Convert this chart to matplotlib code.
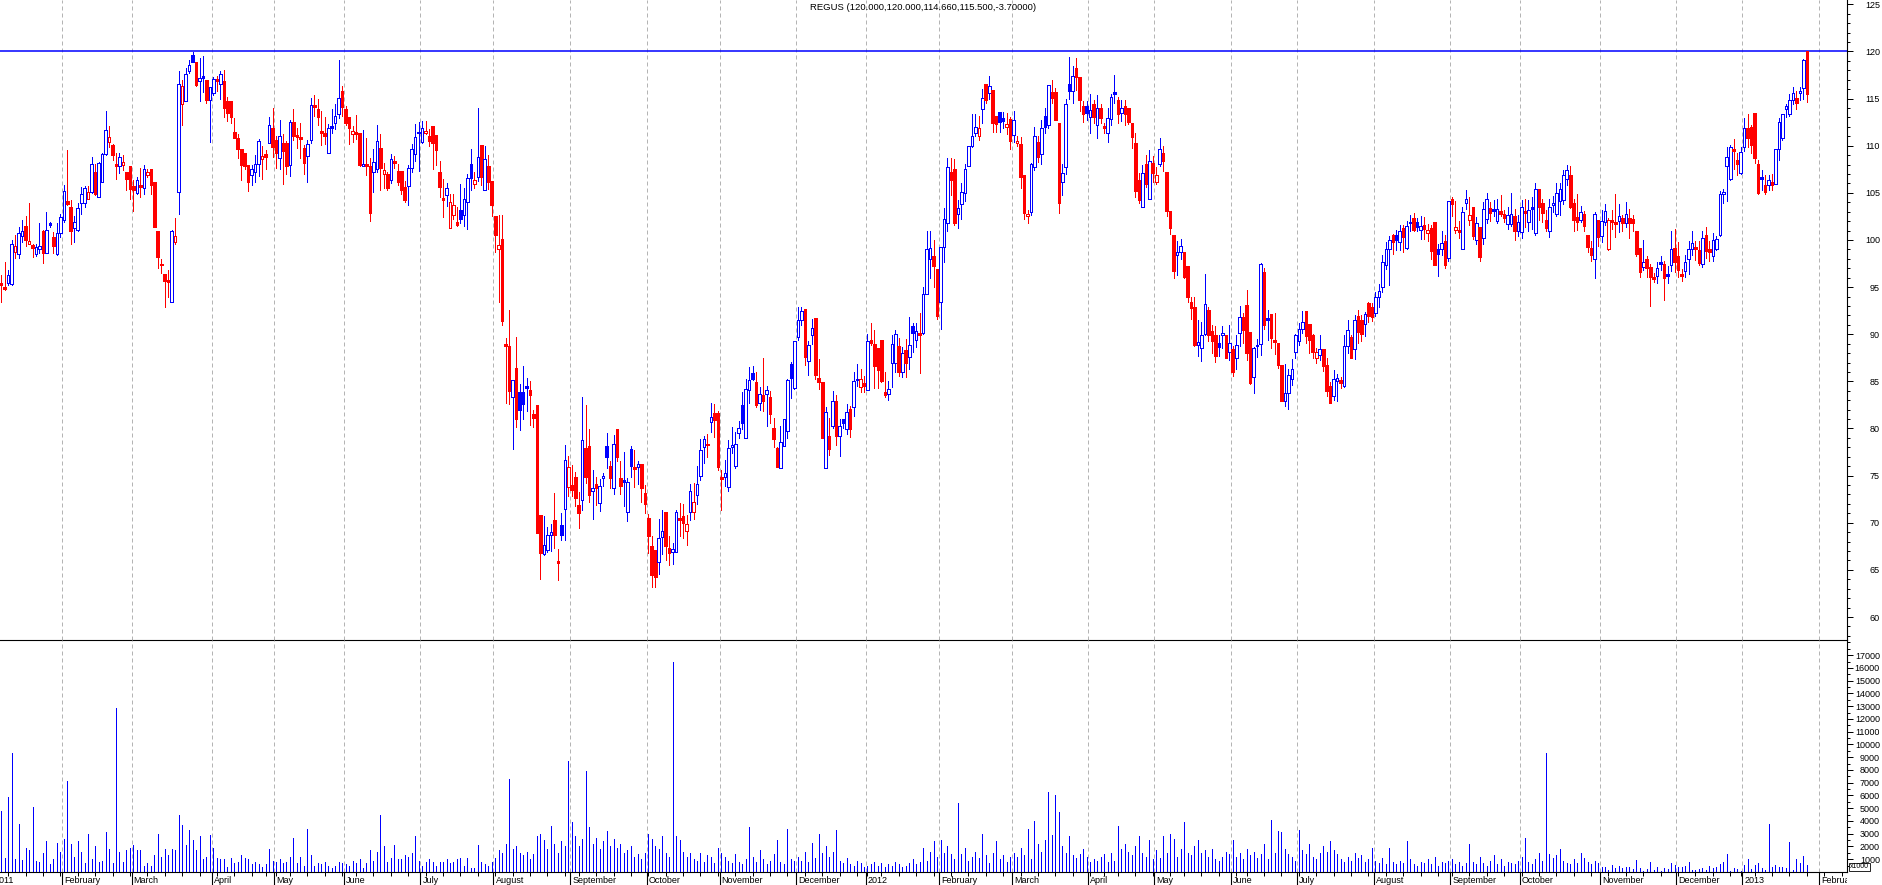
import numpy as np
import pandas as pd
import matplotlib
matplotlib.use("Agg")
import matplotlib.pyplot as plt
from matplotlib.collections import LineCollection
from matplotlib.patches import Rectangle

# ---------------- data ----------------
title_text = "REGUS (120.000,120.000,114.660,115.500,-3.70000)"
first_date = "2011-01-06"
uk_holidays = ["2011-01-03", "2011-04-22", "2011-04-25", "2011-04-29", "2011-05-02",
               "2011-05-30", "2011-08-29", "2011-12-26", "2011-12-27", "2012-01-02",
               "2012-04-06", "2012-04-09", "2012-05-07", "2012-06-04", "2012-06-05",
               "2012-08-27", "2012-12-25", "2012-12-26", "2013-01-01"]
month_names = ["", "February", "March", "April", "May", "June", "July", "August",
               "September", "October", "November", "December"]

opens = [
    95.4, 95.0, 95.4, 95.3, 98.7, 98.5, 100.4, 101.5, 99.6, 99.5, 98.5, 99.0, 100.9, 98.6, 101.8, 100.3, 98.5, 100.7,
    102.1, 104.1, 103.5, 101.3, 101.1, 103.9, 103.9, 104.4, 105.1, 107.2, 104.6, 106.2, 109.1, 110.4, 110.1, 108.1, 107.9, 108.0, 107.2, 107.9,
    105.7, 105.0, 105.8, 105.5, 106.9, 107.5, 106.2, 100.9, 97.5, 96.4, 95.8, 93.45, 99.8, 105.1, 114.4, 114.7, 117.9, 119.6, 118.9, 116.9, 117.2, 117.0, 114.9,
    115.6, 117.1, 116.6, 116.9, 114.7, 114.7, 111.5, 110.8, 109.7, 109.2, 108.0, 106.9, 107.2, 108.1, 108.6, 109.1, 110.3, 111.9,
    110.6, 108.7, 110.3, 110.3, 108.0, 112.5, 111.1, 110.9, 109.8, 108.9, 110.6, 114.1, 113.9, 111.6, 111.4, 109.2, 111.9, 112.4, 113.4, 115.8,
    113.9, 113.1, 111.2, 111.5, 111.4, 107.8, 108.05, 107.85, 107.2, 107.5, 109.8, 107.0, 107.0, 106.4, 108.4, 107.3, 107.3, 105.6, 105.7, 107.6, 109.1, 111.5,
    110.4, 111.4, 111.0, 112.1, 111.1, 107.25, 104.45, 104.8, 101.3, 102.65, 101.95, 103.2, 102.65, 104.0, 108.05, 105.9, 106.7, 110.05, 105.3, 107.85, 106.3,
    102.5, 99.0, 100.1, 88.9, 88.75, 83.3, 86.4, 83.9, 83.9, 84.25, 84.1, 81.5, 82.5, 70.8, 66.7, 67.1, 68.7, 70.3, 65.9, 69.75, 71.5, 73.75,
    74.0, 74.9, 71.9, 72.4, 77.9, 78.1, 73.4, 74.1, 72.1, 74.8, 78.15, 76.0, 73.65, 79.9, 74.7, 74.55, 71.1, 77.8, 75.9, 75.9, 76.2, 73.2,
    70.5, 67.5, 67.1, 65.8, 68.5, 71.1, 67.35, 66.9, 66.9, 70.5, 70.7, 69.1, 71.1, 71.1, 72.9, 75.0, 78.0, 78.4, 80.65, 81.6, 81.6,
    74.9, 74.9, 73.8, 78.05, 76.0, 79.5, 82.5, 79.0, 84.1, 85.9, 84.9, 82.7, 83.55, 83.7, 83.3, 80.1, 77.95, 75.8, 78.1, 79.7, 86.85, 84.3,
    89.75, 91.5, 92.7, 87.2, 89.9, 91.75, 85.4, 84.9, 75.8, 79.2, 80.3, 82.9, 79.2, 81.0, 79.95, 82.05, 82.3, 85.1, 84.45, 84.8,
    84.1, 89.4, 89.0, 88.5, 89.4, 83.9, 83.7, 87.0, 87.0, 88.7, 86.0, 88.3, 87.6, 90.9, 89.4, 90.05, 90.1, 94.3, 98.0, 98.3, 96.9,
    93.45, 99.3, 101.8, 107.2, 107.5, 102.8, 103.8, 104.95, 107.85, 110.0, 111.3, 111.0, 113.9, 116.6, 115.6, 115.9, 113.2, 113.6, 112.9, 111.95, 112.8,
    111.1, 110.25, 110.2, 106.9, 102.5, 103.0, 107.7, 110.4, 109.1, 113.15, 112.2, 115.7, 115.7, 112.4, 106.1, 107.7, 116.55, 115.85, 118.2, 117.3, 114.2, 114.2,
    113.0, 114.4, 112.2, 114.0, 112.1, 111.4, 112.8, 115.7, 114.9, 113.5, 114.2, 114.0, 112.45, 110.25, 106.4, 103.5, 108.05, 104.4, 108.2,
    106.1, 108.1, 109.2, 107.2, 103.1, 100.5, 98.4, 98.75, 98.75, 97.25, 93.45, 92.85, 88.85, 88.5, 90.0, 92.6, 90.3, 89.9, 89.1, 89.9, 89.9, 88.15,
    88.4, 87.45, 90.1, 91.8, 93.1, 90.2, 85.5, 88.9, 88.95, 96.6, 91.7, 92.15, 89.4, 89.1, 86.75, 82.95, 83.8, 85.2, 88.15,
    89.3, 90.6, 92.45, 91.1, 89.9, 87.45, 87.8, 88.4, 86.7, 84.5, 83.45, 85.0, 85.1, 84.5, 88.75, 89.7, 88.4, 91.9, 91.5, 91.1, 93.3, 92.85,
    92.3, 94.0, 95.0, 97.35, 99.0, 100.5, 100.5, 99.8, 101.3, 99.2, 101.8, 102.3, 101.9, 101.1, 101.6, 100.7, 101.3, 101.95, 99.0, 99.0, 99.9, 98.05,
    104.4, 101.1, 101.1, 99.0, 103.9, 102.1, 103.5, 100.0, 101.35, 100.2, 102.2, 103.4, 103.1, 102.05, 103.1, 102.75, 101.7, 101.7, 102.55, 101.0,
    100.8, 103.1, 101.9, 103.45, 100.7, 105.4, 103.9, 102.1, 101.0, 103.7, 102.8, 104.1, 104.2, 106.5, 106.9, 103.9, 102.4, 102.1, 102.75, 100.5, 99.2, 97.95, 102.1,
    100.4, 101.9, 99.0, 102.1, 101.9, 102.05, 102.3, 101.8, 102.3, 102.2, 101.0, 99.2, 97.1, 98.0, 97.15, 96.05, 96.15, 97.7, 97.45, 96.4, 97.35, 99.2,
    98.3, 96.35, 96.75, 97.95, 99.0, 99.3, 98.9, 97.45, 100.5, 99.0, 98.3, 99.0, 100.55, 104.85, 107.85, 106.5, 109.7, 108.5, 107.15,
    109.9, 111.85, 111.95, 113.5, 108.05, 106.5, 105.8, 105.8, 106.2, 105.95, 109.7, 110.8, 113.85, 113.4, 114.9, 115.1, 115.55, 116.1, 120.0,
]
highs = [
    96.3, 97.7, 96.8, 100.0, 100.5, 101.4, 102.1, 102.5, 103.9, 99.6, 99.6, 101.8, 101.1, 103.0, 101.9, 100.8, 101.8, 102.8,
    105.8, 109.5, 104.2, 102.5, 103.9, 105.6, 105.7, 105.7, 108.8, 108.1, 108.3, 109.2, 113.7, 112.1, 110.2, 109.2, 109.2, 109.0, 107.2, 107.9,
    106.4, 106.7, 107.6, 108.0, 107.5, 107.5, 106.2, 100.9, 98.0, 96.4, 96.8, 101.1, 102.3, 117.9, 117.0, 118.2, 119.1, 119.9, 118.9, 119.3, 119.5, 117.0, 116.2,
    117.3, 117.4, 117.9, 118.0, 115.2, 114.7, 112.9, 111.2, 109.7, 109.2, 108.0, 108.0, 109.0, 110.7, 110.0, 109.5, 113.0, 114.0,
    111.0, 112.7, 111.2, 110.5, 112.7, 113.9, 111.9, 112.4, 110.1, 110.6, 115.1, 115.4, 115.0, 113.7, 113.0, 112.3, 113.9, 114.4, 119.1, 116.3,
    114.2, 113.1, 112.1, 113.3, 111.4, 111.7, 110.8, 108.7, 109.7, 112.2, 111.2, 108.2, 107.2, 109.1, 108.9, 108.1, 107.3, 106.3, 108.0, 110.2, 112.3, 112.5,
    112.6, 112.6, 111.8, 112.1, 111.1, 108.4, 106.5, 106.0, 104.9, 104.9, 103.5, 105.9, 105.5, 107.0, 109.7, 107.2, 114.0, 110.05, 110.0, 109.0, 106.3,
    102.5, 102.6, 102.6, 89.6, 92.6, 85.1, 89.75, 84.7, 86.6, 85.4, 85.0, 82.0, 82.5, 70.8, 70.7, 69.6, 69.9, 73.2, 67.2, 71.0, 78.2, 77.1,
    76.1, 75.4, 73.3, 83.3, 82.5, 79.9, 75.6, 74.9, 74.6, 75.3, 79.5, 76.6, 79.3, 79.9, 76.5, 77.5, 74.8, 78.1, 77.7, 76.6, 76.2, 74.0,
    70.9, 68.6, 67.1, 70.4, 71.3, 71.1, 68.6, 67.8, 71.3, 72.1, 72.0, 70.8, 74.1, 74.2, 76.0, 78.9, 79.2, 79.4, 82.7, 82.6, 81.9,
    75.6, 76.7, 78.8, 80.2, 79.6, 80.8, 83.9, 85.3, 86.5, 86.6, 86.0, 84.4, 87.5, 84.5, 84.0, 81.1, 78.0, 80.3, 81.0, 85.3, 87.1, 89.3,
    92.9, 92.9, 92.7, 89.3, 91.6, 91.75, 87.35, 84.9, 82.3, 81.1, 84.0, 83.6, 81.0, 81.0, 82.6, 82.4, 86.0, 86.8, 86.3, 85.6,
    90.0, 91.2, 90.5, 88.5, 89.4, 86.0, 85.0, 89.9, 90.4, 89.6, 88.6, 89.5, 91.8, 91.2, 91.2, 92.3, 95.0, 101.0, 101.0, 100.0, 96.9,
    99.3, 103.4, 108.7, 108.7, 108.6, 104.2, 106.0, 108.1, 110.0, 113.4, 113.4, 113.2, 116.0, 116.6, 117.4, 115.9, 113.2, 113.6, 113.6, 113.5, 113.1,
    113.7, 111.0, 110.9, 106.9, 103.2, 108.2, 112.0, 111.0, 112.7, 114.0, 116.45, 117.0, 116.1, 112.4, 108.1, 115.0, 119.4, 118.5, 119.3, 117.3, 114.7, 114.7,
    115.5, 114.9, 115.4, 114.4, 112.4, 114.0, 115.5, 117.5, 115.2, 114.8, 114.8, 114.0, 112.45, 111.4, 107.1, 108.0, 109.0, 109.5, 108.9,
    107.7, 110.8, 110.0, 107.2, 103.1, 100.5, 99.9, 100.1, 98.75, 97.25, 94.0, 93.9, 91.5, 91.3, 96.4, 92.9, 91.0, 90.9, 89.9, 90.9, 89.9, 91.0,
    88.8, 89.9, 93.0, 92.2, 94.7, 90.2, 88.6, 89.5, 97.6, 97.0, 92.6, 92.15, 92.2, 89.1, 86.75, 86.8, 86.3, 87.4, 90.0,
    91.2, 92.5, 92.45, 91.1, 90.0, 88.5, 89.9, 88.4, 87.5, 84.9, 86.2, 85.8, 85.5, 89.9, 91.5, 89.9, 92.0, 92.6, 92.0, 92.4, 93.4, 93.3,
    94.5, 95.3, 98.4, 99.8, 100.4, 100.6, 101.1, 101.6, 101.6, 102.0, 102.7, 102.9, 102.3, 102.5, 102.4, 101.7, 101.6, 101.95, 99.6, 101.0, 100.5, 104.1,
    104.6, 104.1, 102.0, 103.5, 105.3, 104.6, 103.5, 102.4, 101.35, 104.0, 105.0, 104.0, 104.2, 104.3, 104.8, 103.2, 103.5, 105.0, 103.3, 102.6,
    104.2, 104.4, 104.2, 104.6, 106.0, 105.4, 104.4, 103.2, 104.4, 104.7, 106.0, 106.0, 107.4, 108.0, 107.9, 104.4, 104.9, 103.6, 103.1, 100.5, 99.9, 103.0, 102.1,
    103.2, 103.8, 102.3, 103.2, 104.9, 103.8, 102.6, 104.0, 103.3, 102.6, 101.0, 99.2, 100.0, 98.3, 97.5, 96.5, 97.7, 98.3, 97.8, 97.2, 100.9, 101.2,
    99.8, 96.9, 98.4, 99.9, 100.9, 99.9, 99.9, 100.9, 101.4, 99.9, 100.7, 100.4, 105.2, 105.4, 109.9, 110.1, 110.7, 109.2, 109.9,
    112.9, 113.4, 112.2, 113.5, 108.5, 107.4, 106.9, 106.9, 107.0, 109.6, 112.9, 113.4, 114.4, 115.5, 116.2, 115.8, 116.2, 119.2, 120.0,
]
lows = [
    93.45, 94.7, 95.2, 95.2, 98.05, 98.05, 99.8, 99.4, 99.6, 98.2, 98.3, 98.6, 97.6, 98.6, 101.4, 98.6, 98.4, 100.3,
    101.9, 103.7, 99.6, 99.8, 101.0, 102.8, 103.5, 104.3, 104.95, 104.8, 104.6, 106.2, 109.0, 109.9, 108.5, 106.5, 107.1, 107.4, 105.3, 104.35,
    103.1, 104.9, 104.6, 104.9, 106.7, 104.9, 101.4, 97.0, 96.5, 92.9, 94.0, 93.4, 99.6, 102.8, 112.2, 114.7, 117.7, 118.9, 116.3, 114.7, 115.7, 114.5, 110.4,
    115.4, 115.8, 115.0, 113.0, 112.6, 112.4, 110.8, 108.7, 106.4, 107.5, 105.2, 105.8, 106.2, 106.8, 106.5, 107.5, 110.3, 108.8,
    107.6, 107.5, 105.9, 107.0, 106.8, 110.6, 109.8, 108.7, 107.0, 106.2, 110.3, 113.2, 112.2, 110.1, 110.2, 109.2, 111.4, 111.8, 112.9, 113.2,
    112.2, 110.2, 110.4, 110.7, 107.9, 107.8, 106.9, 102.0, 105.1, 107.2, 105.3, 105.5, 105.3, 106.0, 107.6, 105.8, 104.9, 104.0, 103.7, 107.2, 108.4, 107.3,
    110.3, 111.2, 110.0, 107.5, 108.0, 104.6, 102.4, 103.6, 101.3, 102.2, 101.5, 101.8, 101.5, 101.2, 105.3, 105.5, 106.3, 105.8, 105.3, 105.4, 102.5,
    98.7, 93.4, 91.0, 82.7, 82.6, 77.8, 80.2, 79.8, 81.0, 81.9, 80.4, 80.2, 68.95, 64.0, 66.6, 66.9, 67.0, 67.3, 63.9, 68.2, 68.2, 72.8,
    72.8, 71.8, 69.4, 71.4, 74.2, 72.2, 70.4, 71.9, 71.2, 73.9, 75.8, 73.7, 73.1, 76.5, 73.1, 71.8, 70.2, 74.9, 73.8, 74.1, 72.2, 71.0,
    66.8, 63.2, 63.2, 64.6, 66.7, 66.0, 65.5, 65.6, 66.9, 68.6, 68.4, 67.6, 70.3, 70.4, 72.0, 74.5, 76.3, 77.0, 79.6, 79.1, 75.6,
    71.35, 73.9, 73.4, 77.4, 75.8, 79.0, 79.9, 79.0, 82.7, 85.1, 82.3, 82.0, 81.9, 80.3, 80.6, 78.0, 75.9, 75.8, 78.1, 79.0, 83.2, 84.2,
    89.4, 91.0, 86.7, 85.7, 89.0, 85.3, 84.2, 79.0, 75.8, 77.2, 80.0, 78.3, 77.1, 80.0, 79.4, 79.1, 81.3, 84.5, 83.9, 83.9,
    84.1, 88.9, 84.3, 84.3, 84.9, 83.3, 83.0, 84.4, 86.0, 85.6, 85.5, 85.5, 86.3, 88.1, 88.6, 85.9, 90.0, 94.3, 96.0, 95.0, 91.6,
    90.6, 97.7, 100.9, 104.8, 101.6, 101.3, 102.2, 104.1, 107.8, 109.9, 111.0, 110.6, 112.4, 114.5, 115.0, 111.5, 111.5, 111.5, 111.9, 111.2, 109.7,
    110.4, 110.0, 105.5, 102.2, 101.8, 102.7, 107.4, 108.3, 108.1, 111.4, 111.9, 114.5, 112.7, 102.9, 104.8, 107.0, 115.0, 114.5, 115.9, 113.7, 112.5, 112.7,
    111.3, 112.4, 110.8, 112.4, 111.3, 110.4, 112.2, 114.5, 112.4, 112.6, 112.2, 112.3, 109.8, 104.6, 103.9, 103.5, 105.6, 104.4, 106.2,
    105.9, 107.8, 107.3, 102.5, 100.6, 96.0, 96.3, 98.0, 96.0, 93.4, 91.6, 88.8, 87.7, 87.2, 89.9, 89.3, 88.0, 87.1, 87.7, 88.5, 87.45, 87.3,
    85.6, 86.3, 88.7, 89.1, 87.3, 84.7, 83.8, 87.6, 87.8, 90.6, 89.4, 88.5, 87.9, 86.4, 82.9, 82.4, 82.1, 84.6, 87.5,
    88.9, 90.1, 89.1, 88.0, 87.5, 87.0, 87.3, 86.1, 83.4, 82.7, 83.0, 82.9, 84.3, 84.4, 88.0, 87.45, 87.4, 89.1, 89.3, 89.8, 91.3, 91.4,
    91.9, 92.9, 94.5, 96.9, 95.2, 98.5, 98.9, 98.9, 98.7, 99.0, 101.0, 100.9, 100.9, 100.1, 100.1, 99.9, 98.0, 97.35, 96.2, 98.4, 97.0, 97.8,
    102.5, 100.7, 100.2, 99.0, 103.3, 101.6, 100.1, 99.6, 97.8, 99.6, 101.8, 102.0, 102.5, 101.8, 102.5, 101.9, 101.2, 101.5, 100.0, 100.4,
    100.2, 101.4, 101.0, 101.2, 100.5, 102.1, 101.9, 101.0, 100.3, 103.0, 102.5, 102.7, 103.8, 105.8, 103.4, 101.0, 101.1, 101.9, 101.0, 98.7, 97.8, 96.0, 99.4,
    99.8, 101.6, 98.9, 101.2, 100.3, 100.8, 100.9, 101.4, 100.2, 100.9, 98.3, 96.1, 96.8, 96.1, 93.0, 95.5, 95.4, 96.8, 93.6, 95.4, 96.7, 96.6,
    96.1, 95.7, 96.1, 96.4, 98.4, 97.9, 97.3, 97.1, 98.1, 97.8, 97.8, 98.9, 100.4, 103.9, 104.1, 106.4, 107.5, 106.9, 107.0,
    109.4, 109.9, 109.2, 108.2, 104.9, 105.3, 104.9, 105.3, 105.3, 105.9, 108.5, 110.6, 113.0, 113.2, 114.4, 113.9, 114.9, 115.0, 114.66,
]
closes = [
    95.3, 94.95, 96.3, 99.6, 99.4, 100.7, 100.9, 100.0, 99.9, 99.2, 99.3, 99.4, 98.6, 101.1, 101.6, 99.4, 100.7, 102.4,
    105.2, 103.8, 101.0, 101.9, 103.4, 104.9, 105.55, 105.1, 108.1, 104.9, 108.2, 109.1, 111.7, 110.9, 109.0, 107.8, 108.8, 108.3, 106.5, 105.4,
    105.3, 106.36, 105.6, 107.5, 107.2, 105.8, 101.4, 98.2, 97.3, 95.6, 95.5, 101.0, 100.4, 116.55, 116.3, 117.6, 118.6, 118.9, 116.4, 117.2, 117.3, 114.8, 116.2,
    117.1, 116.9, 117.6, 114.0, 113.5, 113.1, 110.8, 109.7, 108.0, 107.9, 106.1, 107.5, 108.1, 110.5, 108.9, 108.8, 112.2, 109.9,
    109.2, 111.0, 109.4, 107.8, 112.5, 111.0, 110.9, 110.7, 108.2, 110.2, 114.3, 114.2, 113.1, 111.5, 111.0, 111.85, 112.0, 113.2, 115.1, 114.1,
    112.45, 111.85, 111.6, 111.25, 107.95, 108.1, 108.0, 102.9, 108.3, 110.5, 107.6, 107.4, 105.5, 108.6, 108.3, 106.2, 105.3, 104.25, 107.6, 109.7, 110.9, 111.3,
    111.85, 111.6, 110.5, 110.3, 109.5, 105.6, 104.4, 105.5, 104.0, 103.7, 101.55, 102.2, 104.3, 106.55, 106.6, 106.4, 108.85, 106.65, 108.6, 106.2, 103.7,
    100.5, 99.45, 91.4, 88.85, 84.0, 85.1, 81.0, 81.95, 82.6, 84.35, 83.55, 81.1, 68.95, 66.75, 67.6, 68.7, 69.0, 68.7, 65.85, 68.7, 76.65, 75.9,
    73.5, 72.6, 71.0, 78.8, 74.9, 72.9, 73.7, 73.65, 73.9, 74.95, 77.0, 74.8, 78.4, 77.0, 73.9, 74.3, 74.35, 76.05, 75.7, 76.2, 73.7, 72.0,
    68.6, 64.5, 64.2, 68.35, 69.1, 67.5, 66.8, 67.2, 71.1, 70.3, 70.0, 69.9, 73.4, 72.2, 74.1, 77.7, 78.85, 78.2, 81.2, 80.9, 75.9,
    74.6, 75.3, 77.9, 78.3, 78.35, 80.1, 80.55, 84.2, 85.1, 85.2, 82.5, 83.7, 82.9, 84.1, 81.55, 78.9, 75.95, 78.6, 81.0, 85.15, 85.4, 89.3,
    91.5, 92.5, 87.6, 88.9, 90.7, 85.7, 84.9, 79.0, 81.7, 77.8, 82.95, 79.2, 80.3, 80.6, 81.7, 79.95, 85.0, 85.3, 85.25, 84.5,
    89.3, 89.04, 86.6, 86.2, 85.0, 83.5, 84.2, 89.0, 90.0, 86.0, 88.0, 87.0, 88.85, 90.1, 90.3, 90.0, 94.3, 99.0, 99.1, 97.2, 91.9,
    99.3, 102.2, 107.7, 106.4, 101.8, 103.4, 105.1, 107.5, 110.0, 111.0, 111.95, 111.85, 115.1, 114.9, 116.3, 112.4, 112.3, 112.55, 112.6, 112.3, 110.5,
    112.7, 110.5, 106.65, 102.9, 102.8, 108.1, 111.0, 108.8, 111.85, 111.95, 116.45, 115.1, 112.7, 103.9, 107.1, 114.4, 115.85, 117.4, 117.3, 114.9, 113.35, 113.5,
    113.8, 113.1, 114.0, 112.9, 111.85, 112.9, 115.2, 115.6, 113.4, 113.95, 113.35, 112.55, 110.9, 105.2, 104.2, 107.1, 105.9, 108.4, 107.1,
    106.9, 109.7, 108.4, 103.1, 101.3, 96.75, 98.75, 99.35, 96.1, 94.0, 92.75, 88.9, 89.2, 89.9, 93.2, 89.9, 89.3, 87.7, 88.6, 90.1, 87.45, 89.1,
    86.0, 88.9, 91.8, 90.45, 88.0, 84.85, 88.5, 88.75, 97.5, 91.0, 91.6, 89.6, 89.2, 86.75, 82.95, 83.8, 85.7, 86.3, 89.9,
    90.6, 91.3, 89.8, 89.4, 88.15, 88.1, 88.4, 86.6, 84.0, 82.7, 85.2, 85.35, 84.8, 88.75, 90.4, 87.45, 91.5, 90.2, 90.0, 92.15, 91.9, 91.85,
    94.0, 94.6, 97.7, 99.0, 100.0, 99.8, 100.0, 101.0, 100.3, 101.5, 101.95, 101.1, 101.35, 101.5, 101.2, 101.1, 98.8, 97.35, 98.5, 99.7, 97.35, 104.1,
    103.8, 101.4, 100.8, 103.0, 104.4, 102.7, 100.4, 101.8, 98.2, 103.25, 104.4, 102.9, 103.2, 103.3, 102.8, 102.3, 102.65, 102.75, 101.0, 101.95,
    103.45, 103.0, 103.2, 103.35, 105.4, 103.5, 102.9, 101.3, 103.45, 103.9, 104.95, 105.4, 106.9, 107.4, 103.5, 102.1, 101.9, 103.0, 101.5, 99.3, 98.4, 102.75, 100.3,
    102.05, 103.1, 102.1, 101.9, 101.8, 102.5, 101.8, 102.8, 101.8, 101.75, 98.5, 96.6, 97.7, 97.0, 96.1, 96.0, 97.0, 97.45, 96.0, 96.2, 99.0, 97.7,
    96.8, 96.3, 97.7, 99.0, 99.65, 99.0, 97.6, 100.2, 98.8, 98.75, 100.0, 100.1, 104.9, 105.05, 108.8, 109.9, 109.4, 108.1, 109.3,
    111.85, 110.8, 110.1, 108.7, 105.0, 106.6, 105.1, 106.4, 105.8, 109.6, 112.55, 113.4, 114.2, 114.9, 115.6, 114.5, 115.85, 119.1, 115.5,
]
volumes = [
    4800, 1100, 5900, 9300, 1000, 3800, 960, 1900, 1700, 5100, 900, 800, 1500, 2400, 600, 1000, 2300, 1600,
    2600, 7100, 2200, 1200, 2400, 1600, 700, 3000, 1000, 2000, 800, 900, 3100, 1800, 700, 12900, 1600, 800, 1700, 1900,
    2100, 1700, 1700, 500, 700, 500, 1350, 3000, 1200, 1800, 1350, 1800, 1700, 4500, 3700, 2100, 3300, 2500, 1700, 2800, 1000, 1200, 2900,
    1900, 1100, 1000, 1000, 400, 1100, 700, 800, 1300, 1100, 1000, 600, 800, 600, 400, 600, 1800, 900,
    800, 1000, 700, 800, 1200, 2700, 700, 1200, 500, 3400, 1300, 500, 700, 600, 800, 500, 350, 450, 800, 700,
    600, 500, 900, 700, 1000, 350, 700, 1700, 900, 1600, 4500, 2000, 800, 1100, 2100, 1000, 1000, 1300, 1200, 1500, 2800, 900,
    500, 800, 1000, 800, 450, 800, 800, 1000, 700, 800, 1000, 1100, 450, 1100, 350, 350, 2100, 800, 600, 500, 800,
    1100, 1700, 1500, 2200, 7300, 1800, 2000, 1500, 1300, 1600, 1000, 1400, 2800, 3000, 2500, 1800, 3600, 2200, 1500, 2400, 2000, 8700,
    3900, 2800, 2000, 2600, 7900, 3500, 2200, 2700, 1800, 2400, 3200, 2000, 2600, 1900, 2200, 1500, 1700, 2000, 1200, 1400, 1000, 1500,
    3000, 2600, 2000, 1800, 2800, 1500, 1200, 16500, 2800, 2500, 1600, 1200, 1500, 1000, 900, 1500, 800, 1300, 1200, 700, 1900,
    1500, 1200, 900, 700, 1400, 800, 600, 1000, 3500, 1200, 800, 1700, 1000, 600, 900, 1400, 2500, 800, 600, 3400, 1000, 900,
    1200, 900, 1600, 800, 2300, 1100, 3000, 1500, 2000, 1200, 1600, 3300, 900, 700, 1100, 600, 500, 900, 700, 400,
    500, 600, 800, 500, 700, 400, 600, 500, 800, 600, 400, 500, 700, 1000, 600, 800, 1900, 900, 1600, 2400, 1200,
    2500, 1500, 2000, 1400, 1000, 5400, 1400, 1900, 900, 1200, 1600, 1100, 3000, 1300, 700, 1500, 2400, 1000, 1300, 800, 1200,
    1500, 1200, 1900, 1300, 3400, 1000, 4000, 2200, 1600, 2500, 6300, 2900, 6000, 4700, 2000, 1500, 2800, 1300, 1100, 1400, 1800, 1200,
    800, 1000, 900, 1200, 1400, 800, 1500, 900, 3600, 1800, 2200, 1600, 1300, 2000, 2800, 1500, 1200, 2500, 1000,
    1700, 1100, 2800, 1500, 3000, 2600, 1200, 1800, 3900, 1500, 1300, 2000, 2500, 1500, 1700, 1200, 1800, 1000, 900, 1200, 1600, 1400,
    2500, 1200, 1500, 1000, 1800, 1300, 1600, 1100, 1400, 2200, 1000, 4100, 1500, 3200, 3100, 1800, 1400, 1200, 900,
    3300, 1700, 1400, 2200, 1200, 1000, 1500, 2000, 1600, 2400, 1700, 1400, 1000, 800, 1200, 900, 1500, 1100, 1300, 800, 1000, 1900,
    900, 700, 1100, 600, 1900, 800, 600, 900, 700, 2400, 1000, 600, 500, 800, 700, 1000, 600, 1200, 500, 800, 700, 900,
    1000, 600, 800, 500, 700, 2200, 800, 600, 1200, 700, 500, 900, 1300, 600, 1000, 500, 800, 700, 600, 900,
    1200, 2700, 800, 600, 1000, 1500, 900, 9300, 1400, 1100, 1300, 1800, 900, 700, 600, 1000, 700, 1500, 1100, 800, 600, 900, 700,
    370, 370, 160, 550, 290, 470, 290, 370, 370, 210, 940, 290, 100, 210, 780, 160, 370, 100, 290, 210, 680, 520,
    370, 370, 470, 760, 160, 160, 210, 310, 160, 470, 290, 370, 630, 760, 1410, 100, 290, 210, 50,
    520, 990, 210, 520, 680, 290, 160, 3760, 370, 520, 370, 370, 290, 2330, 160, 990, 680, 1220, 520,
]
price_ticks = list(range(60, 126, 5))
volume_ticks = list(range(1000, 17001, 1000))

# ---------------- layout ----------------
BLUE = "#0000ff"
RED = "#ff0000"
GRID = "#b4b4b4"
FONT = "Liberation Sans"
plt.rcParams["font.family"] = [FONT, "DejaVu Sans"]

W, H = 1883, 885
RIGHT = 1847
PX_PER_DAY = 3.479
fig = plt.figure(figsize=(W / 100, H / 100), dpi=100)


def rect(top, bottom):
    return [0, 1 - bottom / H, RIGHT / W, (bottom - top) / H]


axp = fig.add_axes(rect(0, 640))
axv = fig.add_axes(rect(640, 872))
axl = fig.add_axes(rect(872, 885))
xmin = -1.2 / PX_PER_DAY
xmax = xmin + RIGHT / PX_PER_DAY
for a in (axp, axv, axl):
    a.set_xlim(xmin, xmax)
axp.set_ylim(57.56, 125.46)
axv.set_ylim(0, 18196)
axl.set_ylim(0, 1)

o = np.array(opens, float)
h = np.array(highs, float)
lo = np.array(lows, float)
c = np.array(closes, float)
v = np.array(volumes, float)
N = min(len(o), len(h), len(lo), len(c))
o, h, lo, c = o[:N], h[:N], lo[:N], c[:N]
x = np.arange(N)

# trading calendar -> month boundaries
days = pd.bdate_range("2011-01-03", "2013-03-29")
days = days[~days.isin(pd.to_datetime(uk_holidays))]
i0 = days.get_loc(pd.Timestamp(first_date))
pos = np.arange(len(days)) - i0
months = np.asarray(days.month)
years = np.asarray(days.year)
mstart = np.r_[True, months[1:] != months[:-1]]
bounds = pos[mstart] - 0.5
blabels = [str(y) if m == 1 else month_names[m - 1] for m, y in zip(months[mstart], years[mstart])]
wd = np.asarray(days.weekday)
wstart = np.r_[True, wd[1:] < wd[:-1]]
weeks = pos[wstart]

# grid lines
for a, (y0, y1) in ((axp, (57.56, 125.46)), (axv, (0, 18196))):
    a.vlines(bounds, y0, y1, colors=GRID, linestyles=(0, (4, 3)), linewidth=0.72, zorder=1)
axp.axhline(120, color=BLUE, lw=1.1, zorder=2)

# candles
prev = np.r_[o[0], c[:-1]]
cols = np.where(c >= prev, BLUE, RED)
wicks = LineCollection([[(xi, l), (xi, hh)] for xi, l, hh in zip(x, lo, h)],
                       colors=cols, linewidths=0.5, antialiased=False, zorder=3)
axp.add_collection(wicks)
BW = 0.74
doji = []
doji_cols = []
for xi, oo, cc, col in zip(x, o, c, cols):
    if abs(cc - oo) < 0.12:
        doji.append([(xi - BW / 2, cc), (xi + BW / 2, cc)])
        doji_cols.append(col)
        continue
    fc = col if cc < oo else "white"
    axp.add_patch(Rectangle((xi - BW / 2, min(oo, cc)), BW, abs(cc - oo), facecolor=fc,
                            edgecolor=col, linewidth=0.72, antialiased=False, zorder=4))
axp.add_collection(LineCollection(doji, colors=doji_cols, linewidths=1.0,
                                  antialiased=False, zorder=4))

# volume
nv = min(len(v), N)
axv.add_collection(LineCollection([[(xi, 0), (xi, vv)] for xi, vv in zip(x[:nv], v[:nv])],
                                  colors=BLUE, linewidths=0.5, antialiased=False, zorder=3))

# spines and ticks
for a in (axp, axv):
    a.spines["left"].set_visible(False)
    a.spines["top"].set_visible(False)
    for s in ("right", "bottom"):
        a.spines[s].set_linewidth(0.8)
        a.spines[s].set_color("black")
    a.tick_params(axis="x", which="both", bottom=False, labelbottom=False)
    a.yaxis.tick_right()
    a.set_facecolor("none")

axp.set_yticks(price_ticks)
axp.set_yticklabels([str(t) for t in price_ticks])
axp.set_yticks(np.arange(58, 126, 1), minor=True)
axv.set_yticks(volume_ticks)
axv.set_yticklabels([str(t) for t in volume_ticks])
axv.set_yticks(np.arange(500, 18001, 500), minor=True)
for a in (axp, axv):
    a.tick_params(axis="y", which="major", right=True, left=False, direction="out",
                  length=4.3, width=0.72, labelsize=6.5, pad=19.4, colors="black")
    a.tick_params(axis="y", which="minor", right=True, left=False, direction="out",
                  length=2.2, width=0.72)
    for lab in a.get_yticklabels():
        lab.set_horizontalalignment("right")

axp.text(0.5, 1 - 7 / 640, title_text, transform=axp.transAxes, ha="center", va="center",
         fontsize=6.8, color="black")

# bottom date axis
axl.axis("off")
axl.vlines(bounds, 0, 1, colors="black", linewidth=0.8)
axl.vlines(weeks, 0.7, 1.0, colors="black", linewidth=0.72)
for b, lab in zip(bounds, blabels):
    if xmin - 10 < b < xmax:
        axl.text(b + 0.6, 0.17, lab, fontsize=6.5, ha="left", va="baseline", clip_on=True)

fig.text(1850 / W, 1 - 870.5 / H, "x1000", fontsize=5, ha="left", va="bottom",
         bbox=dict(boxstyle="square,pad=0.12", fc="white", ec="black", lw=0.6), zorder=10)

fig.savefig("out.png", dpi=100)
